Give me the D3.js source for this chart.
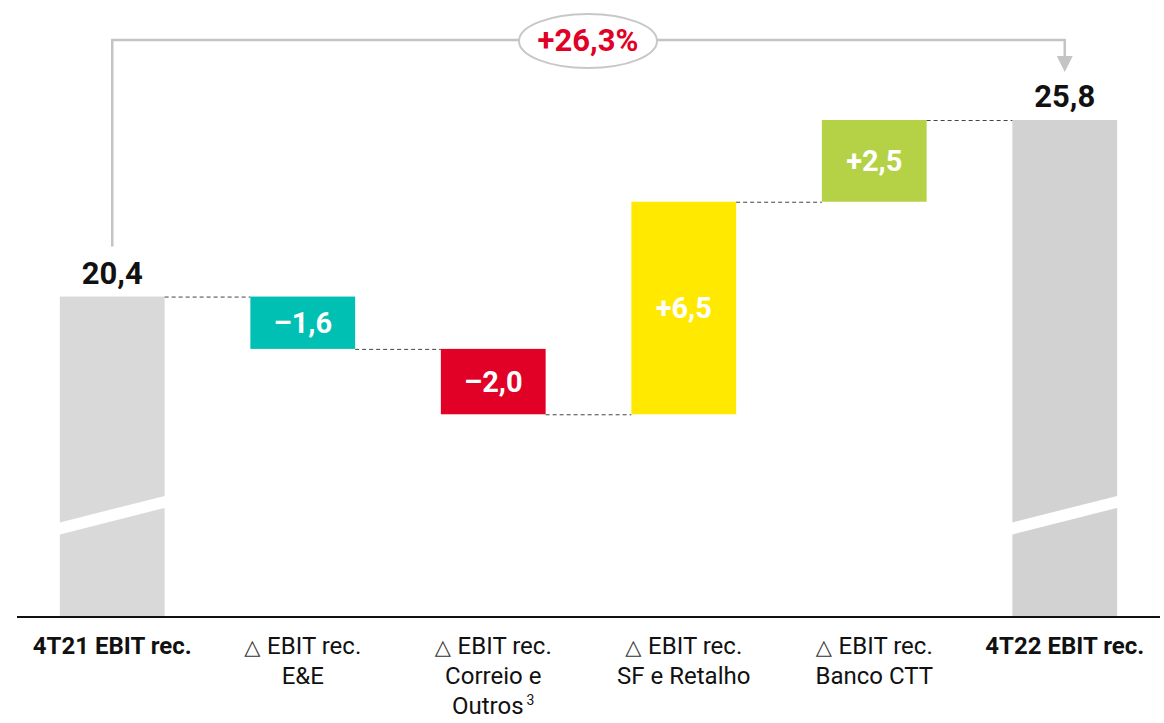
<!DOCTYPE html>
<html>
<head>
<meta charset="utf-8">
<script src="https://cdn.jsdelivr.net/npm/d3@7"></script>
<style>
  html, body { margin: 0; padding: 0; background: #fff; }
  svg text { font-family: "Roboto", "Liberation Sans", sans-serif; }
</style>
</head>
<body>
<script>
// data
const categories = ["4T21", "E&E", "Correio", "SF", "Banco", "4T22"];
const labelLines = [
  ["4T21 EBIT rec."],
  ["EBIT rec.", "E&E"],
  ["EBIT rec.", "Correio e", "Outros"],
  ["EBIT rec.", "SF e Retalho"],
  ["EBIT rec.", "Banco CTT"],
  ["4T22 EBIT rec."]
];
const values = [20.4, -1.6, -2.0, 6.5, 2.5, 25.8];
const kinds = ["total", "delta", "delta", "delta", "delta", "total"];
const valueLabels = ["20,4", "\u20131,6", "\u20132,0", "+6,5", "+2,5", "25,8"];
const colors = ["#d9d9d9", "#00bfb3", "#e10026", "#ffe900", "#b5d247", "#d2d2d2"];
const growthLabel = "+26,3%";

const width = 1164, height = 723;
const baseY = 617, topY = 120;
const left = 17, right = 1160;
const axisMin = 10.6;

const svg = d3.select("body").append("svg")
  .attr("width", width)
  .attr("height", height);

// build waterfall segments
let running = 0;
const bars = values.map((v, i) => {
  let y0, y1;
  if (kinds[i] === "total") { y0 = axisMin; y1 = v; running = v; }
  else { y0 = running; y1 = running + v; running = y1; }
  return { cat: categories[i], v, y0, y1, color: colors[i], label: valueLabels[i], kind: kinds[i], end: y1 };
});

const x = d3.scaleBand()
  .domain(categories)
  .range([left, right])
  .paddingInner(0.45)
  .paddingOuter(0.225);

const y = d3.scaleLinear()
  .domain([axisMin, d3.max(values)])
  .range([baseY, topY]);

// bars
svg.append("g").selectAll("rect")
  .data(bars)
  .join("rect")
  .attr("x", d => x(d.cat))
  .attr("width", x.bandwidth())
  .attr("y", d => y(Math.max(d.y0, d.y1)))
  .attr("height", d => Math.abs(y(d.y0) - y(d.y1)))
  .attr("fill", d => d.color);

// axis break on the total bars
const breakAt = 13.7;
svg.append("g").selectAll("polygon")
  .data(bars.filter(d => d.kind === "total"))
  .join("polygon")
  .attr("fill", "#fff")
  .attr("points", d => {
    const x0 = x(d.cat) - 1, x1 = x(d.cat) + x.bandwidth() + 1;
    const ym = y(breakAt);
    return [[x0, ym + 7], [x1, ym - 20], [x1, ym - 8], [x0, ym + 19]].map(p => p.join(",")).join(" ");
  });

// dashed connectors
svg.append("g").selectAll("line")
  .data(bars.slice(0, -1))
  .join("line")
  .attr("x1", d => x(d.cat) + x.bandwidth())
  .attr("x2", (d, i) => x(categories[i + 1]))
  .attr("y1", d => y(d.end) + 0.5)
  .attr("y2", d => y(d.end) + 0.5)
  .attr("stroke", "#444")
  .attr("stroke-width", 1)
  .attr("stroke-dasharray", "4,3");

// value labels
svg.append("g").selectAll("text")
  .data(bars)
  .join("text")
  .attr("x", d => x(d.cat) + x.bandwidth() / 2)
  .attr("y", d => d.kind === "total"
    ? y(d.y1) - 13
    : (y(d.y0) + y(d.y1)) / 2 + 10)
  .attr("text-anchor", "middle")
  .attr("font-size", d => d.kind === "total" ? 31 : 29)
  .attr("font-weight", "bold")
  .attr("fill", d => d.kind === "total" ? "#111" : "#fff")
  .text(d => d.label);

// baseline
svg.append("line")
  .attr("x1", left).attr("x2", right)
  .attr("y1", baseY).attr("y2", baseY)
  .attr("stroke", "#111")
  .attr("stroke-width", 2);

// category labels
const lab = svg.append("g").selectAll("text")
  .data(bars)
  .join("text")
  .attr("text-anchor", "middle")
  .attr("font-size", 24)
  .attr("font-weight", d => d.kind === "total" ? "bold" : "normal")
  .attr("fill", "#111");
lab.each(function (d, i) {
  const t = d3.select(this);
  labelLines[i].forEach((line, j) => {
    const ts = t.append("tspan")
      .attr("x", x(d.cat) + x.bandwidth() / 2)
      .attr("y", baseY + 37 + j * 30);
    if (d.kind === "delta" && j === 0) {
      ts.append("tspan")
        .attr("font-family", "DejaVu Sans")
        .attr("font-size", 21)
        .attr("fill", "#333")
        .text("\u25B3 ");
    }
    ts.append("tspan").text(line);
    if (i === 2 && j === 2) {
      t.append("tspan").attr("font-size", 14).attr("dy", -9).attr("dx", 3).text("3");
    }
  });
});

// growth bracket
const xa = x(categories[0]) + x.bandwidth() / 2;
const xb = x(categories[5]) + x.bandwidth() / 2;
const bracketY = 40;
svg.append("path")
  .attr("d", `M${xa},${y(values[0]) - 50} V${bracketY} H${xb} V${bracketY + 17}`)
  .attr("fill", "none")
  .attr("stroke", "#c4c4c4")
  .attr("stroke-width", 2.5);
svg.append("path")
  .attr("d", `M${xb - 8},${bracketY + 16} L${xb + 8},${bracketY + 16} L${xb},${bracketY + 32} Z`)
  .attr("fill", "#c4c4c4");

const cx = 588;
svg.append("ellipse")
  .attr("cx", cx).attr("cy", bracketY + 1)
  .attr("rx", 69).attr("ry", 27)
  .attr("fill", "#fff")
  .attr("stroke", "#c8c8c8")
  .attr("stroke-width", 2);
svg.append("text")
  .attr("x", cx).attr("y", bracketY + 11)
  .attr("text-anchor", "middle")
  .attr("font-size", 31)
  .attr("font-weight", "bold")
  .attr("fill", "#e10026")
  .text(growthLabel);
</script>
</body>
</html>
